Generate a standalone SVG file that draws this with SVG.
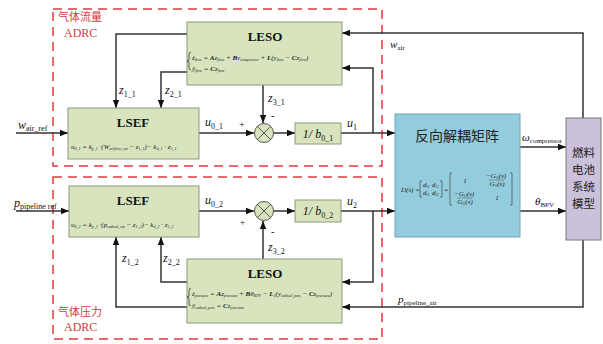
<svg xmlns="http://www.w3.org/2000/svg" width="603" height="344" viewBox="0 0 603 344">
<defs>
<marker id="arr" viewBox="0 0 10 10" refX="10" refY="5" markerWidth="8" markerHeight="8" markerUnits="userSpaceOnUse" orient="auto"><path d="M0,1 L10,5 L0,9 z" fill="#111"/></marker>
<style>
.box{fill:#d7e4bd;stroke:#8c9a78;stroke-width:1}
.ln{fill:none;stroke:#333;stroke-width:1.5}
.dash{fill:none;stroke:#e0393e;stroke-width:1.5;stroke-dasharray:9,6}
.t{font-family:"Liberation Serif",serif;fill:#111}
.ti{font-family:"Liberation Serif",serif;font-style:italic;fill:#111}
.b{font-family:"Liberation Serif",serif;font-weight:bold;font-size:13px;fill:#111}
.eq{font-family:"Liberation Serif",serif;font-style:italic;font-size:7px;fill:#222}
.red{font-family:"Noto Sans CJK SC",serif;font-size:11px;fill:#d03a3f}
.redl{font-family:"Liberation Serif",serif;font-size:12px;fill:#d03a3f}
.cjk{font-family:"Noto Sans CJK SC",sans-serif;fill:#222}
</style>
</defs>
<rect width="603" height="344" fill="#fff"/>
<g id="frames">
<rect class="dash" x="53" y="9" width="329" height="157"/>
<rect class="dash" x="53" y="177" width="329" height="162"/>
<text class="red" x="58" y="21">气体流量</text>
<text class="redl" x="64" y="37">ADRC</text>
<text class="red" x="58" y="316">气体压力</text>
<text class="redl" x="64" y="331">ADRC</text>
</g>
<g id="connectors">
<path class="ln" d="M16,133 H68" marker-end="url(#arr)"/>
<path class="ln" d="M16,211 H69" marker-end="url(#arr)"/>
<path class="ln" d="M187,34 H116 V108" marker-end="url(#arr)"/>
<path class="ln" d="M187,72 H161 V108" marker-end="url(#arr)"/>
<path class="ln" d="M263,85 V123" marker-end="url(#arr)"/>
<path class="ln" d="M199,133 H254" marker-end="url(#arr)"/>
<path class="ln" d="M274,133 H295" marker-end="url(#arr)"/>
<path class="ln" d="M341,133 H395" marker-end="url(#arr)"/>
<path class="ln" d="M373,133 V68 H342" marker-end="url(#arr)"/>
<path class="ln" d="M583,118 V33 H342" marker-end="url(#arr)"/>
<path class="ln" d="M520,147 H566" marker-end="url(#arr)"/>
<path class="ln" d="M520,211 H566" marker-end="url(#arr)"/>
<path class="ln" d="M199,211 H254" marker-end="url(#arr)"/>
<path class="ln" d="M274,211 H295" marker-end="url(#arr)"/>
<path class="ln" d="M341,211 H395" marker-end="url(#arr)"/>
<path class="ln" d="M373,211 V282 H342" marker-end="url(#arr)"/>
<path class="ln" d="M583,240 V307 H342" marker-end="url(#arr)"/>
<path class="ln" d="M263,259 V221" marker-end="url(#arr)"/>
<path class="ln" d="M187,307 H116 V237" marker-end="url(#arr)"/>
<path class="ln" d="M187,282 H161 V237" marker-end="url(#arr)"/>
</g>
<g id="labels">
<text class="ti" x="18" y="129" font-size="12">w<tspan font-size="8" dy="2" font-style="normal">air_ref</tspan></text>
<text class="ti" x="14" y="207" font-size="12">p<tspan font-size="8" dy="2" font-style="normal">pipeline ref</tspan></text>
<text class="ti" x="119" y="94" font-size="12">z<tspan font-size="8" dy="3" font-style="normal">1_1</tspan></text>
<text class="ti" x="165" y="94" font-size="12">z<tspan font-size="8" dy="3" font-style="normal">2_1</tspan></text>
<text class="ti" x="268" y="102" font-size="12">z<tspan font-size="8" dy="3" font-style="normal">3_1</tspan></text>
<text class="t" x="271" y="119" font-size="11">-</text>
<text class="ti" x="205" y="126" font-size="12">u<tspan font-size="8" dy="3" font-style="normal">0_1</tspan></text>
<text class="t" x="239" y="128" font-size="10">+</text>
<text class="ti" x="347" y="127" font-size="12">u<tspan font-size="8" dy="3" font-style="normal">1</tspan></text>
<text class="ti" x="390" y="48" font-size="11">w<tspan font-size="7" dy="2" font-style="normal">air</tspan></text>
<text class="ti" x="522" y="141" font-size="11">ω<tspan font-size="7" dy="2" font-style="normal">compressor</tspan></text>
<text class="ti" x="535" y="205" font-size="11">θ<tspan font-size="7" dy="2" font-style="normal">BPV</tspan></text>
<text class="ti" x="205" y="204" font-size="12">u<tspan font-size="8" dy="3" font-style="normal">0_2</tspan></text>
<text class="t" x="240" y="225" font-size="9" fill="#999">+</text>
<text class="ti" x="347" y="205" font-size="12">u<tspan font-size="8" dy="3" font-style="normal">2</tspan></text>
<text class="t" x="271" y="235" font-size="11">-</text>
<text class="ti" x="268" y="251" font-size="12">z<tspan font-size="8" dy="3" font-style="normal">3_2</tspan></text>
<text class="ti" x="122" y="262" font-size="12">z<tspan font-size="8" dy="3" font-style="normal">1_2</tspan></text>
<text class="ti" x="163" y="262" font-size="12">z<tspan font-size="8" dy="3" font-style="normal">2_2</tspan></text>
<text class="ti" x="398" y="303" font-size="11">p<tspan font-size="7" dy="2" font-style="normal">pipeline_air</tspan></text>
</g>
<g id="leso1">
<rect class="box" x="187" y="22" width="155" height="63"/>
<text class="b" x="265" y="41" text-anchor="middle">LESO</text>
<path d="M191,52 q-2,0 -2,3 v4 q0,2 -2,2 q2,0 2,2 v4 q0,3 2,3" fill="none" stroke="#222" stroke-width="0.7"/>
<text class="eq" x="192" y="60">ż<tspan font-size="4" dy="1">flow</tspan><tspan dy="-1"> = </tspan><tspan font-weight="bold">A</tspan>z<tspan font-size="4" dy="1">flow</tspan><tspan dy="-1"> + </tspan><tspan font-weight="bold">B</tspan>v<tspan font-size="4" dy="1">compressor</tspan><tspan dy="-1"> + </tspan><tspan font-weight="bold">L</tspan>(y<tspan font-size="4" dy="1">flow</tspan><tspan dy="-1"> − </tspan><tspan font-weight="bold">C</tspan>z<tspan font-size="4" dy="1">flow</tspan><tspan dy="-1">)</tspan></text>
<text class="eq" x="192" y="71">ŷ<tspan font-size="4" dy="1">flow</tspan><tspan dy="-1"> = </tspan><tspan font-weight="bold">C</tspan>z<tspan font-size="4" dy="1">flow</tspan></text>
</g>
<g id="lsef1">
<rect class="box" x="68" y="108" width="131" height="51"/>
<text class="b" x="133" y="127" text-anchor="middle">LSEF</text>
<text class="eq" x="71" y="149" font-size="6.5">u<tspan font-size="4" dy="1">0_1</tspan><tspan dy="-1"> = k</tspan><tspan font-size="4" dy="1">p_1</tspan><tspan dy="-1"> ·(W</tspan><tspan font-size="4" dy="1">airflow_set</tspan><tspan dy="-1"> − z</tspan><tspan font-size="4" dy="1">1_1</tspan><tspan dy="-1">)− k</tspan><tspan font-size="4" dy="1">d_1</tspan><tspan dy="-1"> · z</tspan><tspan font-size="4" dy="1">2_1</tspan></text>
</g>
<g id="sum1">
<circle cx="264" cy="133" r="9.5" fill="#d7e4bd" stroke="#555" stroke-width="1"/>
<path d="M257.3,126.3 L270.7,139.7 M270.7,126.3 L257.3,139.7" stroke="#555" stroke-width="1"/>
</g>
<g id="gain1">
<rect class="box" x="295" y="123" width="46" height="21"/>
<text class="ti" x="318" y="138" font-size="12" text-anchor="middle">1/ b<tspan font-size="8" dy="3" font-style="normal">0_1</tspan></text>
</g>
<g id="decoupler">
<rect x="395" y="114" width="125" height="123" fill="#93cddd" stroke="#6aa7b8" stroke-width="1"/>
<text class="cjk" x="457" y="141" font-size="14" text-anchor="middle">反向解耦矩阵</text>
<text class="eq" x="401" y="192" font-size="6">D(s) =</text>
<path d="M422,181 h-2 v16 h2 M440,181 h2 v16 h-2" fill="none" stroke="#333" stroke-width="0.6"/>
<text class="eq" x="423" y="187" font-size="5">d<tspan font-size="3" dy="1">11</tspan></text>
<text class="eq" x="432" y="187" font-size="5">d<tspan font-size="3" dy="1">12</tspan></text>
<text class="eq" x="423" y="195" font-size="5">d<tspan font-size="3" dy="1">21</tspan></text>
<text class="eq" x="432" y="195" font-size="5">d<tspan font-size="3" dy="1">22</tspan></text>
<text class="eq" x="444" y="192" font-size="6">=</text>
<path d="M452,173 h-2 v32 h2 M510,173 h2 v32 h-2" fill="none" stroke="#333" stroke-width="0.6"/>
<text class="eq" x="465" y="183" font-size="6" font-style="normal" text-anchor="middle">1</text>
<text class="eq" x="496" y="178" font-size="5" text-anchor="middle">−G<tspan font-size="3" dy="1">12</tspan><tspan dy="-1">(s)</tspan></text>
<path d="M489,180 h15" stroke="#333" stroke-width="0.4"/>
<text class="eq" x="497" y="186" font-size="5" text-anchor="middle">G<tspan font-size="3" dy="1">11</tspan><tspan dy="-1">(s)</tspan></text>
<text class="eq" x="464" y="196" font-size="5" text-anchor="middle">−G<tspan font-size="3" dy="1">21</tspan><tspan dy="-1">(s)</tspan></text>
<path d="M457,198 h15" stroke="#333" stroke-width="0.4"/>
<text class="eq" x="465" y="204" font-size="5" text-anchor="middle">G<tspan font-size="3" dy="1">22</tspan><tspan dy="-1">(s)</tspan></text>
<text class="eq" x="497" y="200" font-size="6" font-style="normal" text-anchor="middle">1</text>
</g>
<g id="plant">
<rect x="566" y="118" width="35" height="122" fill="#ccc1da" stroke="#777" stroke-width="1"/>
<text class="cjk" x="583.5" y="157" font-size="11.5" text-anchor="middle">燃料</text>
<text class="cjk" x="583.5" y="174" font-size="11.5" text-anchor="middle">电池</text>
<text class="cjk" x="583.5" y="191" font-size="11.5" text-anchor="middle">系统</text>
<text class="cjk" x="583.5" y="208" font-size="11.5" text-anchor="middle">模型</text>
</g>
<g id="lsef2">
<rect class="box" x="69" y="186" width="130" height="51"/>
<text class="b" x="133" y="205" text-anchor="middle">LSEF</text>
<text class="eq" x="71" y="227" font-size="6.5">u<tspan font-size="4" dy="1">0_2</tspan><tspan dy="-1"> = k</tspan><tspan font-size="4" dy="1">p_2</tspan><tspan dy="-1"> ·(p</tspan><tspan font-size="4" dy="1">cathod_set</tspan><tspan dy="-1"> − z</tspan><tspan font-size="4" dy="1">1_2</tspan><tspan dy="-1">)− k</tspan><tspan font-size="4" dy="1">d_2</tspan><tspan dy="-1"> · z</tspan><tspan font-size="4" dy="1">2_2</tspan></text>
</g>
<g id="sum2">
<circle cx="264" cy="211" r="9.5" fill="#d7e4bd" stroke="#555" stroke-width="1"/>
<path d="M257.3,204.3 L270.7,217.7 M270.7,204.3 L257.3,217.7" stroke="#555" stroke-width="1"/>
</g>
<g id="gain2">
<rect class="box" x="295" y="200" width="46" height="22"/>
<text class="ti" x="318" y="215" font-size="12" text-anchor="middle">1/ b<tspan font-size="8" dy="3" font-style="normal">0_2</tspan></text>
</g>
<g id="leso2">
<rect class="box" x="187" y="259" width="155" height="64"/>
<text class="b" x="265" y="278" text-anchor="middle">LESO</text>
<path d="M191,288 q-2,0 -2,3 v4 q0,2 -2,2 q2,0 2,2 v4 q0,3 2,3" fill="none" stroke="#222" stroke-width="0.7"/>
<text class="eq" x="192" y="296" font-size="6.5">ż<tspan font-size="4" dy="1">pressure</tspan><tspan dy="-1"> = </tspan><tspan font-weight="bold">A</tspan>z<tspan font-size="4" dy="1">pressure</tspan><tspan dy="-1"> + </tspan><tspan font-weight="bold">B</tspan>θ<tspan font-size="4" dy="1">BPV</tspan><tspan dy="-1"> − </tspan><tspan font-weight="bold">L</tspan><tspan font-size="4" dy="1">2</tspan><tspan dy="-1">(y</tspan><tspan font-size="4" dy="1">cathod_pres</tspan><tspan dy="-1"> − </tspan><tspan font-weight="bold">C</tspan>z<tspan font-size="4" dy="1">pressure</tspan><tspan dy="-1">)</tspan></text>
<text class="eq" x="192" y="308" font-size="6.5">ŷ<tspan font-size="4" dy="1">cathod_pres</tspan><tspan dy="-1"> = </tspan><tspan font-weight="bold">C</tspan>z<tspan font-size="4" dy="1">pressure</tspan></text>
</g>
</svg>
